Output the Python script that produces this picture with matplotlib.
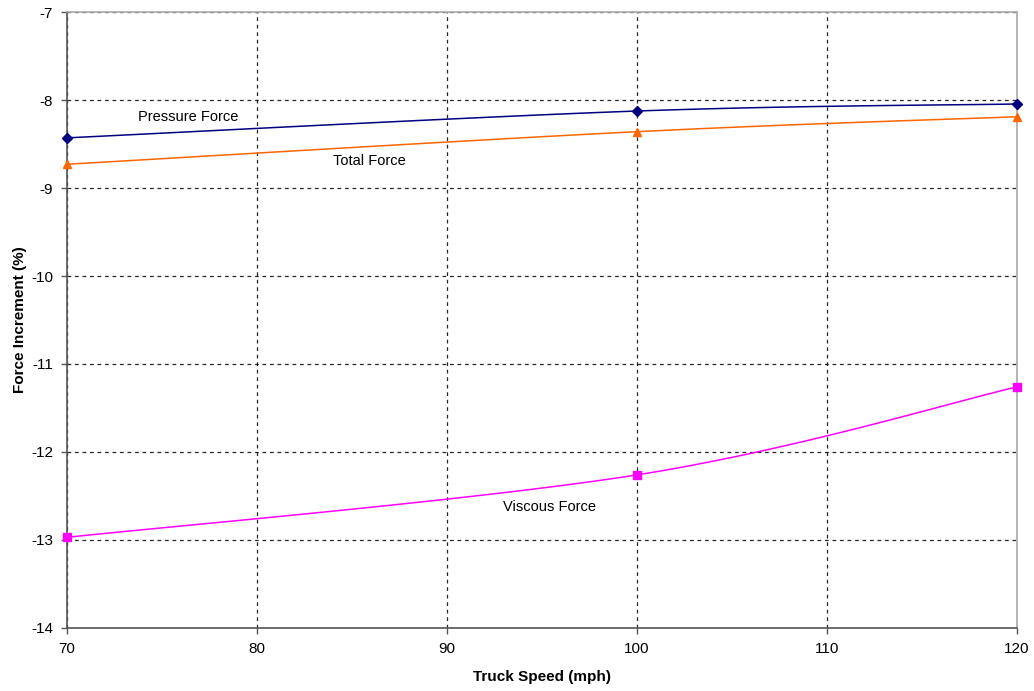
import numpy as np
import matplotlib.pyplot as plt

plt.rcParams['font.family'] = ['Liberation Sans', 'DejaVu Sans']
plt.rcParams['axes.unicode_minus'] = False

speed = [70, 100, 120]
pressure = [-8.43, -8.125, -8.045]
total = [-8.73, -8.36, -8.19]
viscous = [-12.97, -12.26, -11.26]


def smooth(x, y, n=40):
    # Excel-style smoothed line (Catmull-Rom bezier)
    x = np.asarray(x, float)
    y = np.asarray(y, float)
    px = np.concatenate([[x[0]], x, [x[-1]]])
    py = np.concatenate([[y[0]], y, [y[-1]]])
    xs, ys = [], []
    t = np.linspace(0, 1, n)
    for i in range(1, len(px) - 2):
        p0 = np.array([px[i], py[i]])
        p3 = np.array([px[i + 1], py[i + 1]])
        c1 = p0 + (np.array([px[i + 1], py[i + 1]]) - np.array([px[i - 1], py[i - 1]])) / 6
        c2 = p3 - (np.array([px[i + 2], py[i + 2]]) - np.array([px[i], py[i]])) / 6
        b = ((1 - t) ** 3)[:, None] * p0 + (3 * (1 - t) ** 2 * t)[:, None] * c1 \
            + (3 * (1 - t) * t ** 2)[:, None] * c2 + (t ** 3)[:, None] * p3
        xs.extend(b[:, 0])
        ys.extend(b[:, 1])
    return xs, ys


fig = plt.figure(figsize=(10.34, 6.91), dpi=100)
ax = fig.add_axes([0.0648, 0.0912, 0.9188, 0.8914])

series = [
    (pressure, '#000080', 'D', 5),
    (total, '#FF6600', '^', 6),
    (viscous, '#FF00FF', 's', 6),
]
for vals, col, mk, ms in series:
    sx, sy = smooth(speed, vals)
    ax.plot(sx, sy, color=col, lw=1.1, zorder=3)
    ax.plot(speed, vals, ls='none', marker=mk, color=col, ms=ms, zorder=4,
            clip_on=False)

ax.text(76.4, -8.19, 'Pressure Force', fontsize=10.5, ha='center', va='center')
ax.text(85.9, -8.69, 'Total Force', fontsize=10.5, ha='center', va='center')
ax.text(95.4, -12.63, 'Viscous Force', fontsize=10.5, ha='center', va='center')

ax.set_xlim(70, 120)
ax.set_ylim(-14, -7)
ax.set_xticks(range(70, 121, 10))
ax.set_yticks(range(-14, -6))
ax.grid(True, color='black', ls=(0, (3, 3)), lw=0.9, alpha=0.85)
ax.set_axisbelow(True)

for s in ['left', 'bottom']:
    ax.spines[s].set_color('#555555')
    ax.spines[s].set_linewidth(1.2)
for s in ['top', 'right']:
    ax.spines[s].set_color('#aaaaaa')
    ax.spines[s].set_linewidth(1.2)

ax.tick_params(direction='out', length=4, width=1, color='#555555',
               labelsize=11, pad=6)
ax.set_xlabel('Truck Speed (mph)', fontsize=11, fontweight='bold', labelpad=10)
ax.set_ylabel('Force Increment (%)', fontsize=11, fontweight='bold', labelpad=3)

fig.savefig('out.png', dpi=100)
